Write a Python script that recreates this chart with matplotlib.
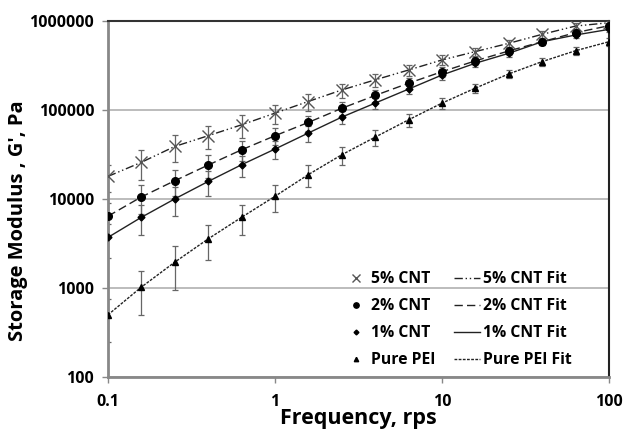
import matplotlib.pyplot as plt
from matplotlib.lines import Line2D
from matplotlib.ticker import FixedLocator, FixedFormatter, NullLocator

# Frequency sweep, rps
freq = [0.1, 0.158, 0.251, 0.398, 0.631, 1.0, 1.58, 2.51, 3.98, 6.31,
        10, 15.8, 25.1, 39.8, 63.1, 100]

# Storage modulus G', Pa
g_5cnt = [17900, 25700, 38800, 51200, 67900, 91800, 124000, 167000, 217000,
          280000, 363000, 450000, 558000, 704000, 872000, 950000]
g_2cnt = [6400, 10500, 16000, 24000, 35600, 51200, 72100, 104000, 145000,
          199000, 268000, 354000, 458000, 582000, 735000, 880000]
g_1cnt = [3700, 6200, 10000, 15700, 24200, 36300, 54800, 82800, 119000,
          171000, 246000, 333000, 431000, 582000, 692000, 800000]
g_pei = [500, 1020, 1950, 3560, 6220, 10700, 18700, 31300, 49400,
         77300, 119000, 175000, 253000, 348000, 461000, 582000]

# error bars (absolute, Pa)
e_5cnt = [6000, 9500, 13000, 15000, 19000, 22000, 26000, 30000, 35000,
          40000, 45000, 50000, 55000, 60000, 70000, 70000]
e_2cnt = [2500, 3800, 5200, 7000, 9000, 11000, 14000, 17000, 21000,
          26000, 32000, 38000, 45000, 52000, 60000, 65000]
e_1cnt = [1500, 2300, 3500, 5000, 6500, 8500, 11000, 14000, 17000,
          22000, 28000, 34000, 40000, 48000, 56000, 60000]
e_pei = [250, 520, 1000, 1500, 2300, 3600, 5200, 7200, 10000,
         13000, 17000, 22000, 28000, 35000, 45000, 60000]

plt.rcParams['font.family'] = ['Open Sans', 'DejaVu Sans']

fig = plt.figure(figsize=(6.24, 4.32), dpi=100)
ax = fig.add_axes([0.173, 0.127, 0.803, 0.825])

series = [
    ("5% CNT", g_5cnt, e_5cnt, 'x', 8, (0, (6, 2, 1, 2, 1, 2)), '#555555'),
    ("2% CNT", g_2cnt, e_2cnt, 'o', 5.5, (0, (6, 3)), 'black'),
    ("1% CNT", g_1cnt, e_1cnt, 'D', 3.5, '-', 'black'),
    ("Pure PEI", g_pei, e_pei, '^', 4.5, (0, (2, 1)), 'black'),
]

marker_handles = []
line_handles = []
for name, g, e, mk, ms, ls, mc in series:
    ax.errorbar(freq, g, yerr=e, fmt='none', ecolor='#666666',
                elinewidth=0.9, capsize=2.5, capthick=0.9, zorder=2)
    ax.plot(freq, g, linestyle=ls, color='#222222', lw=1.0, zorder=3)
    ax.plot(freq, g, linestyle='none', marker=mk, ms=ms, color=mc,
            mew=1.0, zorder=4)
    marker_handles.append(Line2D([], [], linestyle='none', marker=mk,
                                 ms=ms * 0.7, color=mc, label=name))
    line_handles.append(Line2D([], [], linestyle=ls, color='#222222',
                               lw=1.0, label=name + " Fit"))

ax.set_xscale('log')
ax.set_yscale('log')
ax.set_xlim(0.1, 100)
ax.set_ylim(100, 1000000)

ax.xaxis.set_major_locator(FixedLocator([0.1, 1, 10, 100]))
ax.xaxis.set_major_formatter(FixedFormatter(['0.1', '1', '10', '100']))
ax.xaxis.set_minor_locator(NullLocator())
ax.yaxis.set_major_locator(FixedLocator([100, 1000, 10000, 100000, 1000000]))
ax.yaxis.set_major_formatter(FixedFormatter(['100', '1000', '10000', '100000', '1000000']))
ax.yaxis.set_minor_locator(NullLocator())

ax.tick_params(axis='both', labelsize=11.5, length=4, width=1,
               color='#888888', pad=6)
ax.tick_params(axis='x', pad=8)
for lbl in ax.get_xticklabels() + ax.get_yticklabels():
    lbl.set_fontweight('bold')

ax.yaxis.grid(True, color='#b0b0b0', lw=1.2)
ax.set_axisbelow(True)

ax.spines['left'].set_color('#888888')
ax.spines['left'].set_linewidth(2)
ax.spines['bottom'].set_color('#888888')
ax.spines['bottom'].set_linewidth(2)
ax.spines['top'].set_color('#333333')
ax.spines['top'].set_linewidth(1.5)
ax.spines['right'].set_color('#222222')
ax.spines['right'].set_linewidth(1.5)

ax.set_xlabel('Frequency, rps', fontsize=15.5, fontweight='bold', labelpad=-1)
ax.set_ylabel("Storage Modulus , G', Pa", fontsize=14.5, fontweight='bold')
ax.yaxis.set_label_coords(-0.16, 0.44)

ax.legend(handles=marker_handles + line_handles, ncol=2, frameon=False,
          loc='lower right', bbox_to_anchor=(0.925, 0.025),
          borderaxespad=0, borderpad=0,
          prop={'weight': 'bold', 'size': 11.3}, handlelength=1.6,
          handletextpad=0.2, columnspacing=1.2, labelspacing=0.7)

fig.savefig('out.png', dpi=100)
